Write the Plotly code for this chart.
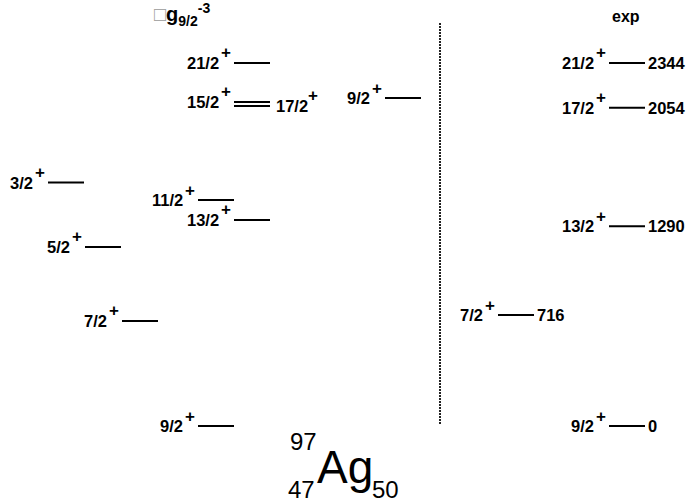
import plotly.graph_objects as go

# Calculated levels (keV) for the pi g9/2^-3 configuration
calc_spins = ["9/2", "7/2", "5/2", "3/2", "11/2", "13/2", "15/2", "17/2", "21/2", "9/2"]
calc_energies = [0, 678, 1156, 1572, 1459, 1330, 2092, 2066, 2344, 2117]

# Experimental levels (keV)
exp_spins = ["9/2", "7/2", "13/2", "17/2", "21/2"]
exp_energies = [0, 716, 1290, 2054, 2344]

# Horizontal placement of each level bar (x from, x to) on a 0..689 canvas axis
calc_x = [(198, 234), (122, 158), (85, 121), (48, 84), (198, 234),
          (234, 270), (234, 270), (234, 270), (234, 270), (385, 421)]
exp_x = [(609, 645), (498, 534), (609, 645), (609, 645), (609, 645)]

W, H = 689, 502
E_TOP, E_BOT = 2750.2, -490.6
FONT = "Liberation Sans, Arial, sans-serif"
LABEL_SIZE = 16.5
PLUS_SIZE = 17


def px_to_e(py):
    """Energy value that sits at a given vertical pixel of the canvas."""
    return (426 - py) / 0.1549


fig = go.Figure()

xs, ys = [], []
for (x0, x1), e in zip(calc_x + exp_x, calc_energies + exp_energies):
    xs += [x0, x1, None]
    ys += [e, e, None]
fig.add_trace(go.Scatter(x=xs, y=ys, mode="lines",
                         line=dict(color="black", width=2),
                         hoverinfo="skip", showlegend=False))

annotations = []


def text_ann(text, x, y, size, xanchor="center", yanchor="middle",
             xshift=0, yshift=0, yref="y", bold=False):
    annotations.append(dict(
        x=x, y=y, xref="x", yref=yref, xanchor=xanchor, yanchor=yanchor,
        xshift=xshift, yshift=yshift, showarrow=False,
        borderpad=0, borderwidth=0,
        text=f"<b>{text}</b>" if bold else text,
        font=dict(family=FONT, size=size, color="black")))


def spin_label(text, x, e, side="left"):
    """Spin-parity label J^+ placed beside a level bar."""
    if side == "left":
        text_ann(text, x, e, LABEL_SIZE, xanchor="right", xshift=-15, bold=True)
        text_ann("+", x, e, PLUS_SIZE, xanchor="right", xshift=-3, yshift=10,
                 bold=True)
    else:
        text_ann(text, x, e, LABEL_SIZE, xanchor="left", xshift=6, bold=True)
        text_ann("+", x, e, PLUS_SIZE, xanchor="left", xshift=38, yshift=10,
                 bold=True)


for i, (s, e) in enumerate(zip(calc_spins, calc_energies)):
    x0, x1 = calc_x[i]
    if s == "17/2":
        spin_label(s, x1, e, side="right")
    else:
        spin_label(s, x0, e)

for i, (s, e) in enumerate(zip(exp_spins, exp_energies)):
    x0, x1 = exp_x[i]
    spin_label(s, x0, e)
    text_ann(str(e), x1, e, LABEL_SIZE, xanchor="left", xshift=3, bold=True)

# Column headings
annotations.append(dict(
    x=154, y=1.0, xref="x", yref="paper", xanchor="left", yanchor="top",
    yshift=0, showarrow=False, borderpad=0, borderwidth=0,
    text=("<span style='color:#9a9a9a'>□</span><b>g<sub>9/2</sub>"
          "<sup>-3</sup></b>"),
    font=dict(family=FONT, size=20, color="black")))
text_ann("exp", 626, 1.0, 16, yanchor="top", yshift=-8, yref="paper", bold=True)

# Nucleus symbol
text_ann("97", 303, px_to_e(441), 24)
text_ann("47", 301, px_to_e(489), 24)
text_ann("Ag", 345, px_to_e(467), 46)
text_ann("50", 385, px_to_e(489), 24)

# Dotted separator between calculation and experiment
shapes = [dict(type="line", xref="x", yref="y", x0=440, x1=440,
               y0=px_to_e(23), y1=px_to_e(425),
               line=dict(color="#222222", width=2, dash="2px,1px"))]

fig.update_layout(
    width=W, height=H,
    margin=dict(l=0, r=0, t=0, b=0),
    paper_bgcolor="white", plot_bgcolor="white",
    xaxis=dict(range=[0, W], visible=False, fixedrange=True),
    yaxis=dict(range=[E_BOT, E_TOP], visible=False, fixedrange=True),
    annotations=annotations, shapes=shapes,
)

fig.write_html("out.html")
